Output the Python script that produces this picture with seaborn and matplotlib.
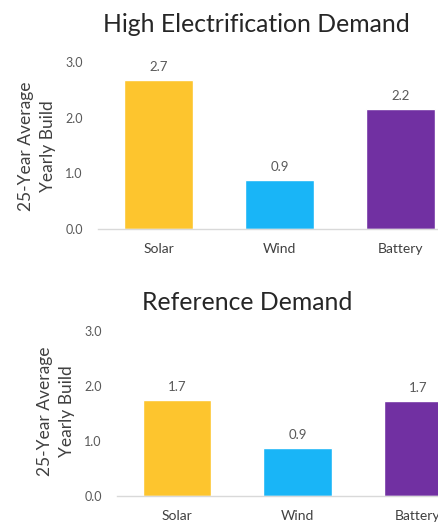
import matplotlib
matplotlib.use("Agg")
import matplotlib.pyplot as plt
import seaborn as sns
import pandas as pd

categories = ["Solar", "Wind", "Battery"]
high_values = [2.68, 0.88, 2.16]
ref_values = [1.74, 0.87, 1.73]
high_labels = ["2.7", "0.9", "2.2"]
ref_labels = ["1.7", "0.9", "1.7"]
yticks = [0.0, 1.0, 2.0, 3.0]
colors = ["#FDC52E", "#19B5F7", "#7130A2"]
titles = ["High Electrification Demand", "Reference Demand"]
ylabel = "25-Year Average\nYearly Build"

sns.set_style("white")
plt.rcParams["font.family"] = ["Lato", "DejaVu Sans"]

W, H = 438, 525
fig = plt.figure(figsize=(W / 100, H / 100), dpi=100)

def px_axes(left, right, top, bottom):
    return fig.add_axes([left / W, 1 - bottom / H, (right - left) / W, (bottom - top) / H])

panels = [
    dict(vals=high_values, labs=high_labels, box=(98, 461, 62, 229), title_xy=(256, 25),
         ylab_xy=(37, 146)),
    dict(vals=ref_values, labs=ref_labels, box=(117, 478, 331, 496), title_xy=(247, 302),
         ylab_xy=(56, 411)),
]

for p, title in zip(panels, titles):
    ax = px_axes(*p["box"])
    df = pd.DataFrame({"cat": categories, "val": p["vals"]})
    sns.barplot(data=df, x="cat", y="val", hue="cat", palette=colors, width=0.57,
                legend=False, ax=ax, saturation=1)
    ax.set_xlim(-0.5, 2.5)
    ax.set_ylim(0, 3)
    ax.set_yticks(yticks)
    ax.set_yticklabels([f"{t:.1f}" for t in yticks])
    ax.set_xlabel("")
    ax.set_ylabel("")
    for s in ["top", "right", "left"]:
        ax.spines[s].set_visible(False)
    ax.spines["bottom"].set_color("#D9D9D9")
    ax.spines["bottom"].set_linewidth(1.0)
    ax.tick_params(axis="both", length=0)
    ax.tick_params(axis="y", pad=11, labelsize=9, labelcolor="#595959")
    ax.tick_params(axis="x", pad=10, labelsize=10, labelcolor="#404040")
    for i, (v, lab) in enumerate(zip(p["vals"], p["labs"])):
        ax.annotate(lab, (i, v), xytext=(0, 5), textcoords="offset points",
                    ha="center", va="bottom", fontsize=9.5, color="#595959")
    fig.text(p["title_xy"][0] / W, 1 - p["title_xy"][1] / H, title, ha="center",
             va="center", fontsize=17.8, color="#262626")
    fig.text(p["ylab_xy"][0] / W, 1 - p["ylab_xy"][1] / H, ylabel, rotation=90,
             ha="center", va="center", multialignment="center", fontsize=12.5,
             color="#404040", linespacing=1.4)

fig.savefig("out.png", dpi=100, facecolor="white")
